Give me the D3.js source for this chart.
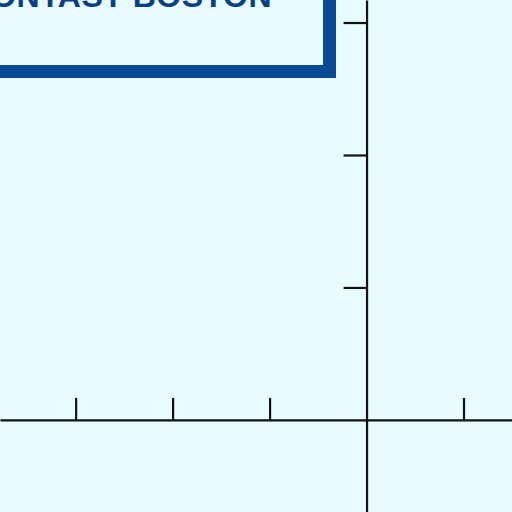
<!DOCTYPE html>
<html>
<head>
<meta charset="utf-8">
<script src="https://cdn.jsdelivr.net/npm/d3@7"></script>
<style>
  html, body { margin: 0; padding: 0; background: #e8fcff; overflow: hidden; }
  svg { display: block; }
</style>
</head>
<body>
<div id="chart"></div>
<script>
// Tick positions (in axis units) and the title in the box
const X_TICKS = [-3, -2, -1, 1];
const Y_TICKS = [1, 2, 3];
const X_DOMAIN = [-3.78, 1.5];
const Y_DOMAIN = [-0.695, 3.17];
const TITLE = 'CONTAST BOSTON';

const width = 512, height = 512;

let svg = d3.select('#chart')
  .append('svg')
  .attr('width', width)
  .attr('height', height);

svg.append('rect')
  .attr('width', width)
  .attr('height', height)
  .attr('fill', '#e8fcff');

var x = d3.scaleLinear().domain(X_DOMAIN).range([0, width]);
var y = d3.scaleLinear().domain(Y_DOMAIN).range([height, 0]);

// x axis: ticks point up, no labels
let xAxis = svg.append('g')
  .attr('transform', 'translate(0,' + y(0) + ')')
  .call(d3.axisTop(x).tickValues(X_TICKS).tickSize(22).tickSizeOuter(0).tickFormat(''));

// y axis: ticks point left, no labels
let yAxis = svg.append('g')
  .attr('transform', 'translate(' + x(0) + ',0)')
  .call(d3.axisLeft(y).tickValues(Y_TICKS).tickSize(23).tickSizeOuter(0).tickFormat(''));

[xAxis, yAxis].forEach(g => {
  g.selectAll('path, line')
    .attr('stroke', '#111')
    .attr('stroke-width', 2.2);
});

// title box, mostly cropped off the top-left
svg.append('rect')
  .attr('x', -20)
  .attr('y', -60)
  .attr('width', 349.5)
  .attr('height', 131.5)
  .attr('fill', 'none')
  .attr('stroke', '#0b4a94')
  .attr('stroke-width', 13);

svg.append('text')
  .attr('x', 272)
  .attr('y', 7)
  .attr('text-anchor', 'end')
  .style('font-family', '"Liberation Sans", Arial, sans-serif')
  .style('font-weight', 'bold')
  .style('font-size', '32px')
  .style('letter-spacing', '0.5px')
  .attr('fill', '#0b3f82')
  .text(TITLE);
</script>
</body>
</html>
